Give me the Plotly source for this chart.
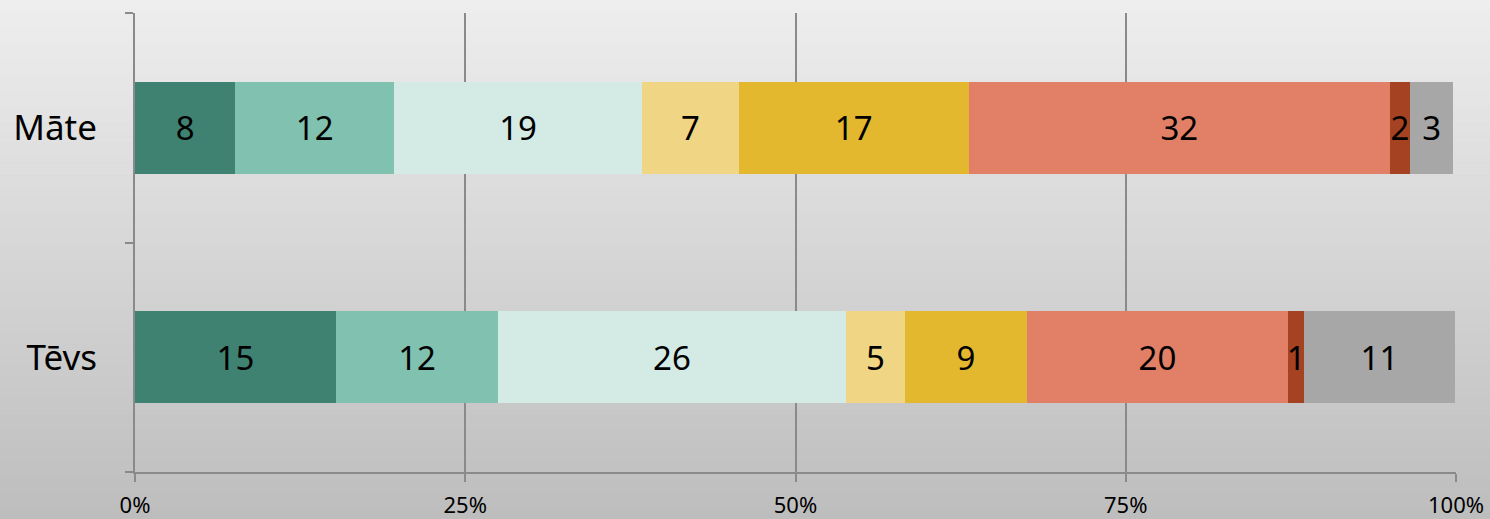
import plotly.graph_objects as go

categories = ["Tēvs", "Māte"]
series_names = ["s1", "s2", "s3", "s4", "s5", "s6", "s7", "s8"]
# percentage shares per category (Tēvs, Māte)
s1 = [15.2, 7.6]
s2 = [12.3, 12.0]
s3 = [26.3, 18.8]
s4 = [4.5, 7.3]
s5 = [9.2, 17.4]
s6 = [19.8, 31.9]
s7 = [1.2, 1.5]
s8 = [11.4, 3.3]
# displayed labels
l1 = ["15", "8"]
l2 = ["12", "12"]
l3 = ["26", "19"]
l4 = ["5", "7"]
l5 = ["9", "17"]
l6 = ["20", "32"]
l7 = ["1", "2"]
l8 = ["11", "3"]
tick_vals = [0, 25, 50, 75, 100]
tick_text = ["0%", "25%", "50%", "75%", "100%"]

values = [s1, s2, s3, s4, s5, s6, s7, s8]
labels = [l1, l2, l3, l4, l5, l6, l7, l8]
colors = ["#3f8272", "#80c1b0", "#d4ebe5", "#f0d584", "#e4b82e",
          "#e18066", "#a54222", "#a7a7a7"]

FONT = "Noto Sans"
fig = go.Figure()
for name, v, t, c in zip(series_names, values, labels, colors):
    fig.add_trace(go.Bar(
        y=categories, x=v, name=name, orientation="h",
        marker=dict(color=c, line=dict(width=0)),
        text=t, textposition="inside", insidetextanchor="middle",
        textangle=0, constraintext="none",
        textfont=dict(family=FONT, size=33, color="black"),
        width=0.4, hoverinfo="skip",
    ))

# background gradient
W, H = 1490, 519
ml, mr, mt, mb = 135, 34, 13, 47
pw, ph = W - ml - mr, H - mt - mb
n = 80
top = (0xee, 0xee, 0xee)
bot = (0xbd, 0xbd, 0xbd)
shapes = []
for i in range(n):
    f = (i + 0.5) / n
    col = tuple(round(top[k] + (bot[k] - top[k]) * f) for k in range(3))
    y_top_px = H * i / n
    y_bot_px = H * (i + 1) / n + 0.6
    shapes.append(dict(
        type="rect", xref="paper", yref="paper", layer="below",
        x0=-ml / pw - 0.01, x1=1 + mr / pw + 0.01,
        y0=1 - (y_bot_px - mt) / ph, y1=1 - (y_top_px - mt) / ph,
        fillcolor="rgb(%d,%d,%d)" % col, line=dict(width=0),
    ))

fig.update_layout(
    barmode="stack",
    width=W, height=H, autosize=False,
    margin=dict(l=ml, r=mr, t=mt, b=mb, autoexpand=False),
    paper_bgcolor="#bdbdbd",
    plot_bgcolor="rgba(0,0,0,0)",
    showlegend=False,
    shapes=shapes,
    uniformtext=dict(mode="show", minsize=33),
    font=dict(family=FONT, color="black"),
    xaxis=dict(
        range=[0, 100], tickvals=tick_vals, ticktext=tick_text,
        automargin=False,
        showgrid=True, gridcolor="#8a8a8a", gridwidth=2,
        zeroline=False, showline=True, linecolor="#8a8a8a", linewidth=2,
        ticks="outside", ticklen=8, tickcolor="#8a8a8a", tickwidth=2,
        tickfont=dict(family=FONT, size=22, color="black"),
        ticklabelstandoff=5,
    ),
    yaxis=dict(
        type="category", categoryorder="array", categoryarray=categories,
        range=[-0.5, 1.5], automargin=False,
        showgrid=False, zeroline=False,
        showline=True, linecolor="#8a8a8a", linewidth=2,
        ticks="outside", ticklen=8, tickcolor="#8a8a8a", tickwidth=2,
        tickson="boundaries",
        tickfont=dict(family=FONT, size=35, color="black"),
        ticklabelstandoff=29,
    ),
)

post = (
    "document.body.style.margin='0';"
    "document.body.style.padding='0';"
    "document.body.style.overflow='hidden';"
)
fig.write_html("out.html", post_script=post,
               config={"displayModeBar": False, "staticPlot": True})
